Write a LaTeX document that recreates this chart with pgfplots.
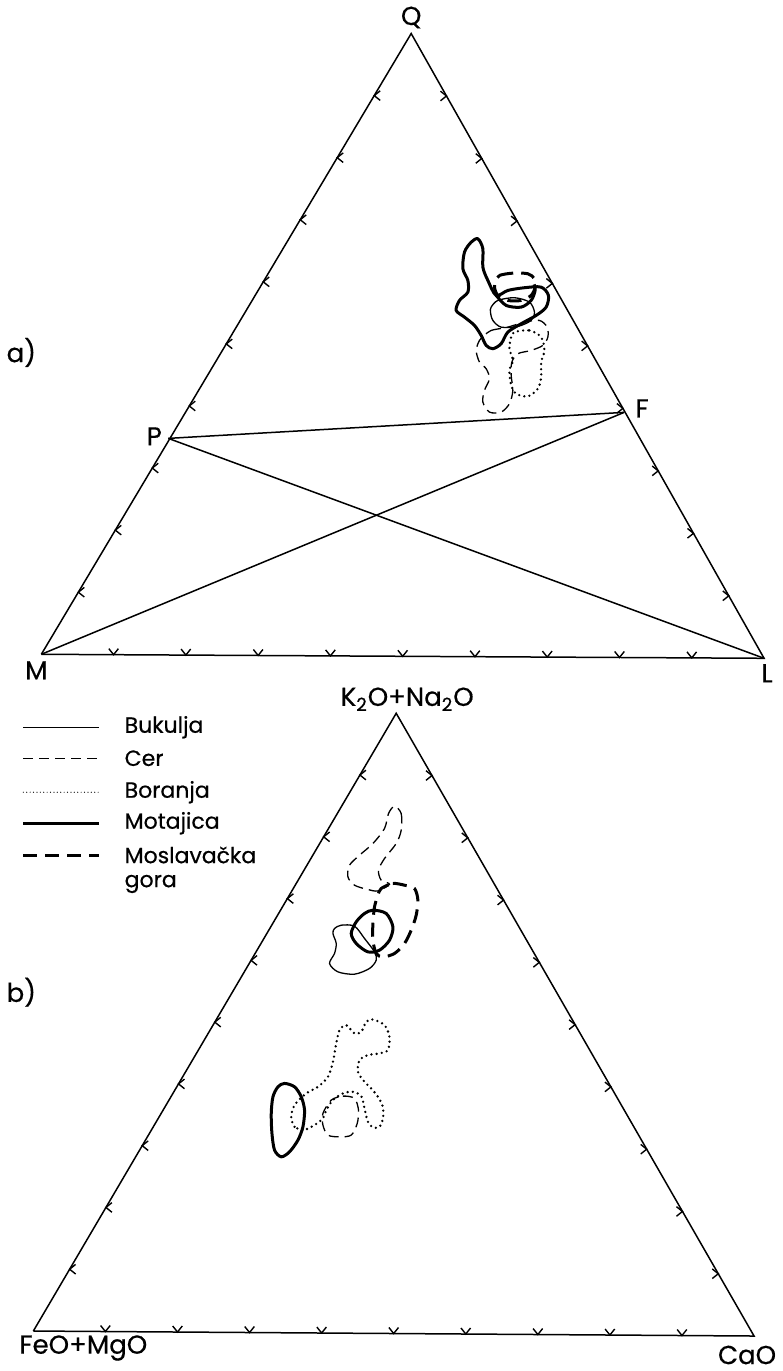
\documentclass[border=0pt]{standalone}
\usepackage{fontspec}
\setmainfont{Poppins}[FakeBold=0.5]
\usepackage{pgfplots}
\pgfplotsset{compat=1.18}
\usetikzlibrary{calc}

\tikzset{
  frame/.style={black, line width=0.75pt},
  bukulja/.style={black, line width=0.65pt},
  cer/.style={black, line width=0.65pt, dash pattern=on 5pt off 3pt},
  boranja/.style={black, line width=1.3pt, line cap=round, dash pattern=on 0pt off 2.6pt},
  motajica/.style={black, line width=1.5pt},
  moslav/.style={black, line width=1.5pt, dash pattern=on 7pt off 4pt},
  tk/.style={black, line width=0.7pt},
  lab/.style={font=\fontsize{11}{12}\selectfont, inner sep=0pt},
  vlab/.style={font=\fontsize{13}{15}\selectfont},
}

\begin{document}
\begin{tikzpicture}
\begin{axis}[
  scale only axis, width=386.5pt, height=685.5pt,
  xmin=0, xmax=773, ymin=0, ymax=1371, y dir=reverse,
  hide axis, clip=false,
]
\path (axis cs:0,0) rectangle (axis cs:773,1371);

% --- a) Q-M-L triangle
\addplot[frame] coordinates {(40,654) (410,33) (763,658) (40,654)};
\addplot[frame] coordinates {(167,438) (623,412)};
\addplot[frame] coordinates {(167,438) (763,658)};
\addplot[frame] coordinates {(40,654) (623,412)};
\coordinate (M) at (axis cs:40,654);
\coordinate (Q) at (axis cs:410,33);
\coordinate (L) at (axis cs:763,658);

% contours a)
\addplot[motajica, smooth cycle] coordinates {
  (476.7,238.3) (481.7,248.3) (481.7,266.7) (486.7,280) (495,295) (506.7,290)
  (523.3,287.3) (540,286.7) (547.3,295) (545,306.7) (535,315) (520,323.3)
  (506.7,331.7) (500,343.3) (491.7,348.3) (485,345) (480,335) (473.3,325)
  (463.3,316.7) (455,310) (458.3,300) (466.7,291.7) (466.7,280) (461.7,268.3)
  (463.3,251.7) (470,241.7)};
\addplot[motajica, smooth] coordinates {
  (495,295) (505,305) (520,306.7) (530,300) (534,290) (533,284)};
\addplot[moslav, smooth cycle] coordinates {
  (495,280) (498.3,275) (511.7,272.7) (526.7,273.3) (533.3,278.3) (534,286.7)
  (530,295) (520,300) (506.7,300) (496.7,295) (493.3,286.7)};
\addplot[bukulja, smooth cycle] coordinates {
  (490,306.7) (496.7,300) (513.3,297.3) (528.3,301.7) (533.3,311.7) (530,320)
  (516.7,326) (500,326.7) (491.7,320) (489.3,311.7)};
\addplot[cer, smooth cycle] coordinates {
  (483.3,335) (490,330) (506.7,326.7) (523.3,321.7) (538.3,320) (546,326.7)
  (546.7,336.7) (541.7,345) (530,350) (516.7,353.3) (510.7,361.7) (510,375)
  (511.7,390) (508.3,403.3) (500,411.7) (488.3,411.7) (481.7,401.7) (483.3,390)
  (488.3,378.3) (485,368.3) (478.3,361.7) (475,350) (478.3,340)};
\addplot[boranja, smooth cycle] coordinates {
  (513.3,331.7) (528.3,330) (540,336.7) (543.3,350) (540,361.7) (540,376.7)
  (536.7,388.3) (526.7,396) (515,393.3) (510,385) (508.3,370) (511.7,360)
  (508.3,348.3) (510,336.7)};

% --- b) triangle
\addplot[frame] coordinates {(32,1331) (395,713) (753,1336) (32,1331)};
\coordinate (A) at (axis cs:32,1331);
\coordinate (K) at (axis cs:395,713);
\coordinate (C) at (axis cs:753,1336);

% contours b)
\addplot[cer, smooth cycle] coordinates {
  (393.3,806) (400,813.3) (400,830) (395,843.3) (383.3,858.3) (377.3,870)
  (380,880) (388.3,884) (376.7,890.7) (366.7,889.3) (353.3,885) (346.7,876.7)
  (348.3,865) (358.3,855) (371.7,843.3) (383.3,828.3) (387.3,813.3)};
\addplot[moslav, smooth cycle] coordinates {
  (380,888.3) (391.7,883.3) (403.3,885) (413.3,888.3) (416.7,900) (415,915)
  (410,930) (403.3,943.3) (393.3,953.3) (381.7,956.7) (375,953.3) (371.7,940)
  (371.7,923.3) (373.3,906.7) (376.7,895)};
\addplot[motajica, smooth cycle] coordinates {
  (371.7,910) (385,913.3) (391.7,926.7) (388.3,940) (378.3,950) (366.7,951.7)
  (355,943.3) (350,933.3) (355,921.7) (363.3,913.3)};
\addplot[bukulja, smooth cycle] coordinates {
  (340,925) (353.3,926) (363.3,938.3) (373.3,951.7) (375,960) (368.3,968.3)
  (353.3,974) (336.7,971.7) (328.3,963.3) (333.3,953.3) (335,943.3)
  (331.7,933.3) (333.3,928.3)};
\addplot[boranja, smooth cycle] coordinates {
  (301.7,1130) (293.3,1126.7) (290,1116.7) (293.3,1105) (305,1093.3)
  (316.7,1086.7) (326.7,1076.7) (331.7,1061.7) (335,1043.3) (338.3,1030)
  (345,1025) (353.3,1033.3) (360,1031.7) (365,1021.7) (371.7,1019.3)
  (383.3,1025) (388.3,1036.7) (386.7,1050) (378.3,1053.3) (366.7,1055)
  (358.3,1060) (356.7,1071.7) (363.3,1081.7) (370,1088.3) (376.7,1096.7)
  (381.7,1106.7) (381.7,1118.3) (378.3,1126.7) (371.7,1127.3) (366.7,1121.7)
  (363.3,1108.3) (360,1096) (351.7,1091.7) (341.7,1093.3) (331.7,1100)
  (325,1110) (321.7,1118.3) (313.3,1125) (303.3,1130)};
\addplot[cer, smooth cycle] coordinates {
  (330,1100) (341.7,1096) (353.3,1098.3) (357.3,1110) (356,1123.3) (350,1135)
  (338.3,1136.7) (326.7,1135) (321.7,1125) (321.7,1113.3)};
\addplot[motajica, smooth cycle] coordinates {
  (283.3,1083.3) (293.3,1086.7) (300,1096.7) (303.3,1110) (301.7,1126.7)
  (296.7,1140) (288.3,1151.7) (280,1156.7) (273.3,1150) (270.7,1133.3)
  (270,1113.3) (271.7,1096.7) (276.7,1086.7)};

% legend
\addplot[bukulja] coordinates {(22,727) (98,727)};
\addplot[cer] coordinates {(22,758) (98,758)};
\addplot[black, line width=0.6pt, line cap=round, dash pattern=on 0pt off 1.7pt] coordinates {(22,792) (98,792)};
\addplot[motajica] coordinates {(22,823) (98,823)};
\addplot[moslav] coordinates {(22,855) (98,855)};
\node[lab, anchor=west] at (axis cs:123,727) {Bukulja};
\node[lab, anchor=west] at (axis cs:123,758) {Cer};
\node[lab, anchor=west] at (axis cs:123,792) {Boranja};
\node[lab, anchor=west] at (axis cs:123,823) {Motajica};
\node[lab, anchor=north west, align=left] at (axis cs:123,846) {Moslavačka\\gora};

% labels
\node[vlab] at (axis cs:410,17) {Q};
\node[vlab] at (axis cs:35,670) {M};
\node[vlab] at (axis cs:766,673) {L};
\node[vlab] at (axis cs:153,436) {P};
\node[vlab] at (axis cs:641,408) {F};
\node[vlab] at (axis cs:20,352) {a)};
\node[vlab] at (axis cs:20,992) {b)};
\node[vlab] at (axis cs:406,699) {K\textsubscript{2}O+Na\textsubscript{2}O};
\node[vlab] at (axis cs:82,1348) {FeO+MgO};
\node[vlab] at (axis cs:746,1355) {CaO};
\end{axis}

% tick marks on the triangle sides
\foreach \t in {1,...,9} {
  \draw[tk] ($(M)!\t/10!(Q)+(3pt,2.4pt)$) -- ($(M)!\t/10!(Q)$) -- ($(M)!\t/10!(Q)+(3pt,-2.4pt)$);
  \draw[tk] ($(Q)!\t/10!(L)+(-3pt,2.4pt)$) -- ($(Q)!\t/10!(L)$) -- ($(Q)!\t/10!(L)+(-3pt,-2.4pt)$);
  \draw[tk] ($(M)!\t/10!(L)+(-2.4pt,3pt)$) -- ($(M)!\t/10!(L)$) -- ($(M)!\t/10!(L)+(2.4pt,3pt)$);
  \draw[tk] ($(A)!\t/10!(K)+(3pt,2.4pt)$) -- ($(A)!\t/10!(K)$) -- ($(A)!\t/10!(K)+(3pt,-2.4pt)$);
  \draw[tk] ($(K)!\t/10!(C)+(-3pt,2.4pt)$) -- ($(K)!\t/10!(C)$) -- ($(K)!\t/10!(C)+(-3pt,-2.4pt)$);
  \draw[tk] ($(A)!\t/10!(C)+(-2.4pt,3pt)$) -- ($(A)!\t/10!(C)$) -- ($(A)!\t/10!(C)+(2.4pt,3pt)$);
}
\end{tikzpicture}
\end{document}
